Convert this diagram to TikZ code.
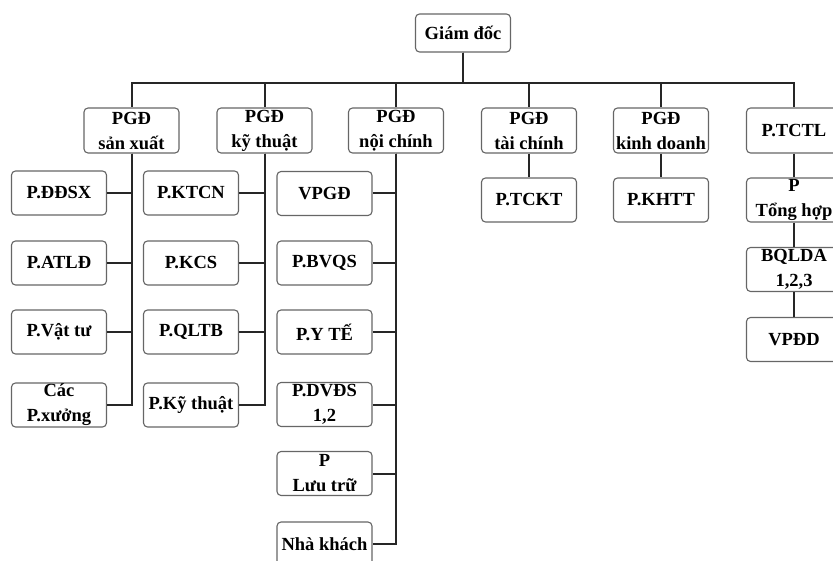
\documentclass[tikz,border=0pt]{standalone}
\usepackage{fontspec}
\setmainfont{Liberation Serif}
\usetikzlibrary{positioning}
\tikzset{
  unitbox/.style={draw=black!60,fill=white,rounded corners=4pt,line width=1.1pt,
                  minimum width=95pt,minimum height=44pt,inner sep=0.5pt,align=center,
                  font=\fontsize{18.5}{25}\selectfont\bfseries},
  link/.style={line width=2pt,black!85},
}

\begin{document}
\begin{tikzpicture}[x=1pt,y=-1pt]
  \useasboundingbox (0,0) rectangle (833,561);
  \clip (0,0) rectangle (833,561);

  % director
  \node[unitbox,minimum height=38pt] (gd) at (463,33) {Giám đốc};

  % deputies and P.TCTL
  \foreach \n/\x/\t in {pgdsx/131.5/{PGĐ\\sản xuất},pgdkt/264.5/{PGĐ\\kỹ thuật},
                        pgdnc/396/{PGĐ\\nội chính},pgdtc/529/{PGĐ\\tài chính},
                        pgdkd/661/{PGĐ\\kinh doanh},tctl/794/{P.TCTL}}{
    \node[unitbox,minimum height=45pt] (\n) at (\x,130.5) {\t};
    \draw[link] (gd.south) -- ++(0,30) -| (\n.north);
  }

  % san xuat
  \foreach \n/\y/\t in {ddsx/193/{P.ĐĐSX},atld/263/{P.ATLĐ},vattu/332/{P.Vật tư},
                        xuong/405/{Các\\P.xưởng}}{
    \node[unitbox] (\n) at (59,\y) {\t};
    \draw[link] (pgdsx.south) |- (\n.east);
  }

  % ky thuat
  \foreach \n/\y/\t in {ktcn/193/{P.KTCN},kcs/263/{P.KCS},qltb/332/{P.QLTB},
                        pkt/405/{P.Kỹ thuật}}{
    \node[unitbox] (\n) at (191,\y) {\t};
    \draw[link] (pgdkt.south) |- (\n.east);
  }

  % noi chinh
  \foreach \n/\y/\t in {vpgd/193.5/{VPGĐ},bvqs/263/{P.BVQS},yte/332/{P.Y TẾ},
                        dvds/404.5/{P.DVĐS\\1,2},luutru/473.5/{P\\Lưu trữ},
                        nhakhach/544/{Nhà khách}}{
    \node[unitbox] (\n) at (324.5,\y) {\t};
    \draw[link] (pgdnc.south) |- (\n.east);
  }

  % tai chinh, kinh doanh
  \node[unitbox] (tckt) at (529,200) {P.TCKT};
  \node[unitbox] (khtt) at (661,200) {P.KHTT};
  \draw[link] (pgdtc.south) -- (tckt.north);
  \draw[link] (pgdkd.south) -- (khtt.north);

  % P.TCTL chain
  \node[unitbox] (tonghop) at (794,200) {P\\Tổng hợp};
  \node[unitbox] (bqlda) at (794,269.5) {BQLDA\\1,2,3};
  \node[unitbox] (vpdd) at (794,339.5) {VPĐD};
  \draw[link] (tctl.south) -- (tonghop.north);
  \draw[link] (tonghop.south) -- (bqlda.north);
  \draw[link] (bqlda.south) -- (vpdd.north);
\end{tikzpicture}
\end{document}
